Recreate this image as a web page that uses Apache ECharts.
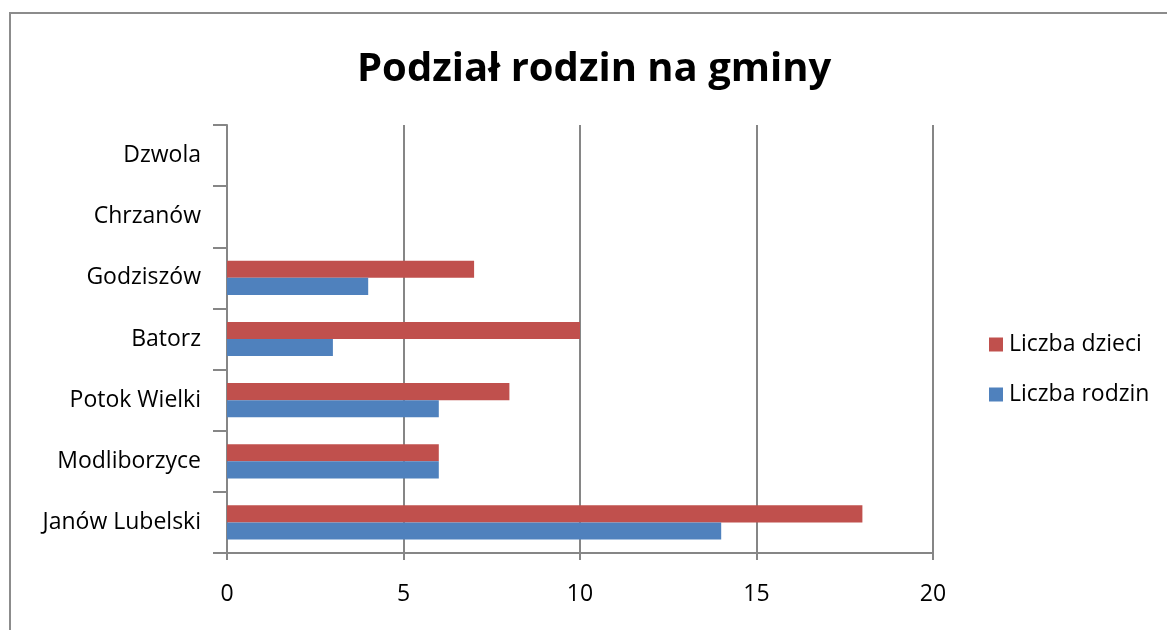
<!DOCTYPE html>
<html>
<head>
<meta charset="utf-8">
<script src="https://cdn.jsdelivr.net/npm/echarts@6/dist/echarts.min.js"></script>
<style>
  html, body { margin: 0; padding: 0; background: #fff; }
  #chart { width: 1167px; height: 630px; }
</style>
</head>
<body>
<div id="chart"></div>
<script>
// gminy, od dołu do góry
var gminy = ['Janów Lubelski', 'Modliborzyce', 'Potok Wielki', 'Batorz', 'Godziszów', 'Chrzanów', 'Dzwola'];
var liczbaRodzin = [14, 6, 6, 3, 4, 0, 0];
var liczbaDzieci = [18, 6, 8, 10, 7, 0, 0];
var osX = [0, 5, 10, 15, 20];

var chartDom = document.getElementById('chart');
var myChart = echarts.init(chartDom);

var szary = '#868686';
var font = '"Open Sans", sans-serif';

var option = {
    animation: false,
    backgroundColor: '#fff',
    graphic: [{
        type: 'rect',
        shape: { x: 10, y: 13, width: 1200, height: 700 },
        style: { fill: 'none', stroke: '#8c8c8c', lineWidth: 2 }
    }],
    title: {
        text: 'Podział rodzin na gminy',
        left: 352,
        top: 45,
        textStyle: { fontFamily: font, fontSize: 40, fontWeight: 'bold', color: '#000' }
    },
    legend: {
        orient: 'vertical',
        left: 984,
        top: 328,
        itemWidth: 14,
        itemHeight: 14,
        itemGap: 27,
        icon: 'rect',
        data: ['Liczba dzieci', 'Liczba rodzin'],
        textStyle: { fontFamily: font, fontSize: 23, color: '#000', padding: [0, 0, 0, 1] }
    },
    grid: {
        left: 227,
        right: 234,
        top: 125,
        bottom: 77,
        containLabel: false
    },
    xAxis: {
        type: 'value',
        min: osX[0],
        max: osX[osX.length - 1],
        interval: 5,
        axisLine: { show: true, lineStyle: { color: szary, width: 2 } },
        axisTick: { show: true, length: 7, lineStyle: { color: szary, width: 2 } },
        splitLine: { show: true, lineStyle: { color: szary, width: 2 } },
        axisLabel: { margin: 30, fontFamily: font, fontSize: 23, color: '#000' }
    },
    yAxis: {
        type: 'category',
        data: gminy,
        axisLine: { show: true, lineStyle: { color: szary, width: 2 } },
        axisTick: { show: true, length: 14, lineStyle: { color: szary, width: 2 } },
        axisLabel: { margin: 26, fontFamily: font, fontSize: 23, color: '#000' }
    },
    series: [
        {
            name: 'Liczba dzieci',
            type: 'bar',
            data: liczbaDzieci,
            barGap: '0%',
            barCategoryGap: '44%',
            itemStyle: { color: '#C0504D' }
        },
        {
            name: 'Liczba rodzin',
            type: 'bar',
            data: liczbaRodzin,
            barGap: '0%',
            barCategoryGap: '44%',
            itemStyle: { color: '#4F81BD' }
        }
    ]
};

option && myChart.setOption(option);
</script>
</body>
</html>
